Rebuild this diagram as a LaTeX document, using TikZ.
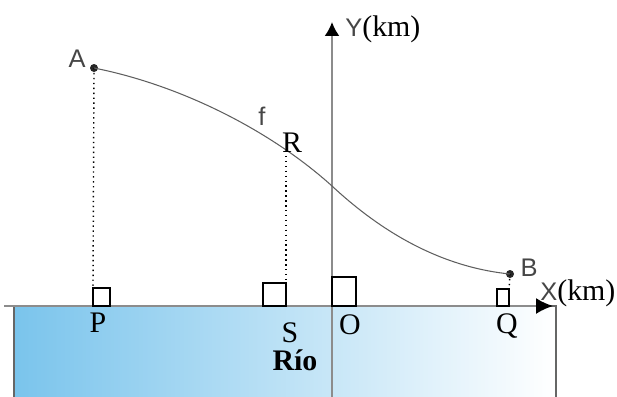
\documentclass[tikz,border=0pt]{standalone}
\usepackage{fontspec}
\setmainfont{Liberation Serif}
\setsansfont{Liberation Sans}
\usepackage{tikz}
\usepackage{xcolor}
\usetikzlibrary{arrows.meta}
\definecolor{riverblue}{RGB}{122,196,236}
\definecolor{axisgray}{RGB}{140,140,140}
\definecolor{curvegray}{RGB}{95,95,95}
\definecolor{labelgray}{RGB}{70,70,70}

\begin{document}
\begin{tikzpicture}[x=0.02cm, y=-0.02cm,
  lbl/.style={font=\fontsize{17}{20}\selectfont},
  sanslbl/.style={font=\fontsize{14.5}{17}\selectfont\sffamily, text=labelgray},
  sq/.style={draw=black, line width=0.8pt, fill=white},
  dot/.style={circle, fill=black!85, inner sep=0pt, minimum size=0.16cm}]
\useasboundingbox (0,0) rectangle (617,396);
% river
\shade[left color=riverblue, right color=white, draw=black!60, line width=0.7pt]
  (14,306) rectangle (556,400);
% points
\coordinate (O) at (332,306);
\coordinate (P) at (93,306);
\coordinate (S) at (286,306);
\coordinate (Q) at (509,306);
\coordinate (M) at (332,186);
\coordinate (Ptop) at (93,288);
\coordinate (Stop) at (286,283);
\coordinate (Qtop) at (509,289);
\node[dot] (A) at (94,68) {};
\node[dot] (B) at (510,274) {};
\coordinate (R) at (286,151);
% axes
\coordinate (xs) at (4,306);
\coordinate (xe) at (553,306);
\coordinate (ys) at (332,400);
\coordinate (ye) at (332,22);
\draw[axisgray, line width=1.1pt, -{Latex[black, length=0.34cm, width=0.32cm]}] (xs) -- (xe);
\draw[axisgray, line width=1.1pt, -{Latex[black, length=0.28cm, width=0.3cm]}] (ys) -- (ye);
\node[anchor=west, inner sep=0pt] (ylab) at (345,29)
  {\fontsize{14.5}{17}\selectfont\sffamily\color{labelgray}Y\fontsize{17}{20}\selectfont\rmfamily\color{black}(km)};
\node[anchor=west, inner sep=0pt] (xlab) at (540,293)
  {\fontsize{14.5}{17}\selectfont\sffamily\color{labelgray}X\fontsize{17}{20}\selectfont\rmfamily\color{black}(km)};
% right-angle squares
\draw[sq] (P) rectangle ++(17,-18);
\draw[sq] (S) rectangle ++(-23,-23);
\draw[sq] (O) rectangle ++(24,-29);
\draw[sq] (Q) rectangle ++(-12,-17);
% dotted projections
\draw[dotted, line width=0.8pt] (A.center) -- (Ptop);
\draw[dotted, line width=0.8pt] (R) -- (Stop);
\draw[dotted, line width=0.8pt] (B.center) -- (Qtop);
% curve f
\draw[curvegray, line width=0.6pt] (A.center) .. controls (180,85) and (270,130) .. (M)
  .. controls (390,240) and (450,268) .. (B.center);
% labels
\node[sanslbl] (Alab) at (77,59) {A};
\node[sanslbl] (Blab) at (529,268) {B};
\node[sanslbl] (flab) at (262,116) {f};
\node[lbl] (Rlab) at (292,143) {R};
\node[lbl] (Plab) at (98,323) {P};
\node[lbl] (Slab) at (290,333) {S};
\node[lbl] (Olab) at (350,325) {O};
\node[lbl] (Qlab) at (507,326) {Q};
\node[lbl, font=\fontsize{17}{20}\selectfont\bfseries] (rio) at (295,360) {Río};
\end{tikzpicture}
\end{document}
